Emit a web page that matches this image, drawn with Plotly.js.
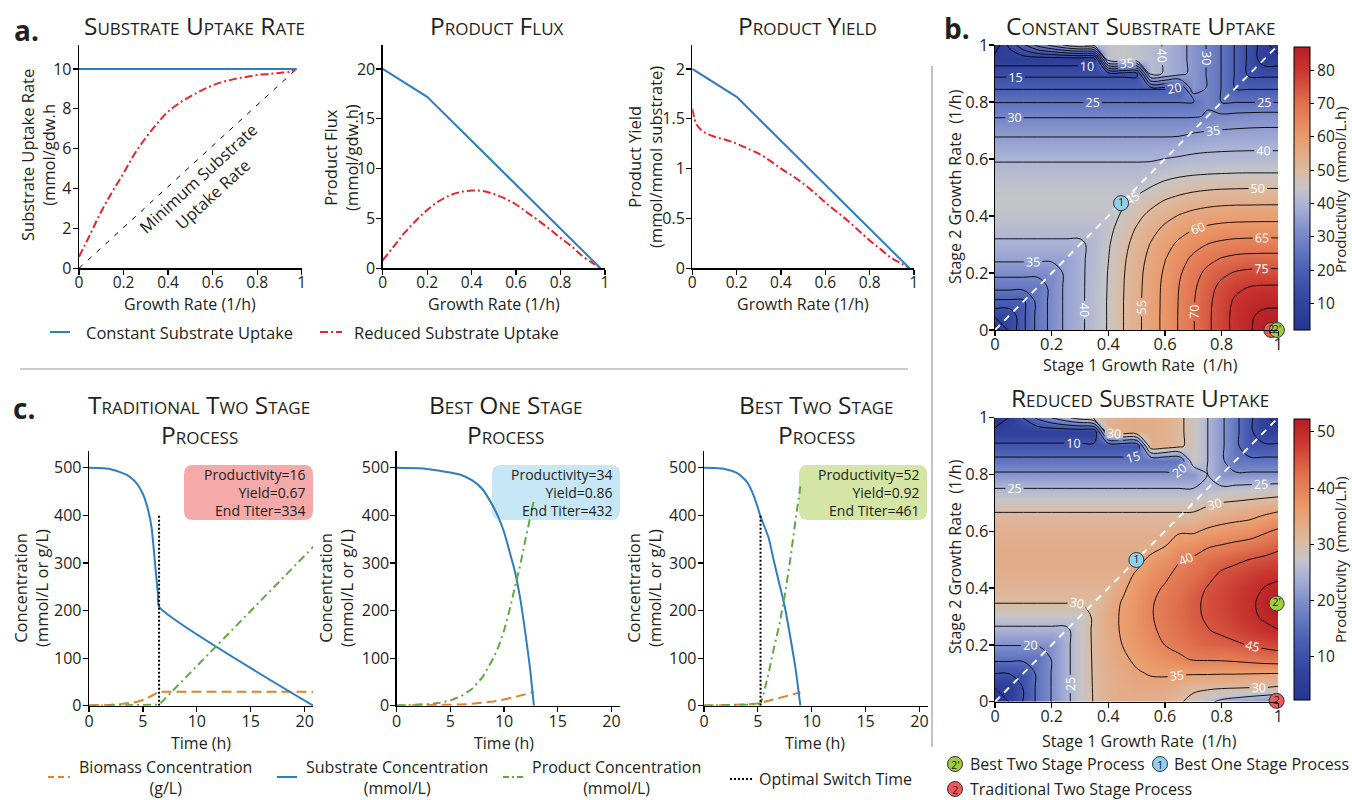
<!DOCTYPE html>
<html><head><meta charset="utf-8">
<script src="https://cdn.plot.ly/plotly-3.0.1.min.js"></script>
<style>html,body{margin:0;padding:0;background:#fff}#chart{width:1352px;height:800px}</style>
</head><body><div id="chart"></div>
<script>
// ---------- panel a data ----------
const muConst = [0, 0.977];
const uptakeConst = [10, 10];
const muMinUptake = [0, 0.977];
const uptakeMin = [0, 10];
const muReduced = [0,0.05,0.1,0.15,0.2,0.25,0.3,0.35,0.4,0.45,0.5,0.55,0.6,0.65,0.7,0.75,0.8,0.85,0.9,0.95,0.977];
const uptakeReduced = [0.58,1.7,2.85,3.85,4.77,5.75,6.55,7.25,7.86,8.28,8.62,8.92,9.18,9.36,9.5,9.6,9.7,9.75,9.8,9.87,10];
const muFluxConst = [0, 0.2, 0.98];
const fluxConst = [20, 17.2, 0];
const muFluxRed = [0,0.05,0.1,0.15,0.2,0.25,0.3,0.35,0.4,0.45,0.5,0.55,0.6,0.65,0.7,0.75,0.8,0.85,0.9,0.95,0.98];
const fluxRed = [0.8,2.2,3.6,4.8,5.85,6.7,7.3,7.65,7.8,7.75,7.45,7.0,6.4,5.6,4.8,3.95,3.05,2.2,1.2,0.45,0];
const muYieldConst = [0, 0.2, 0.98];
const yieldConst = [2, 1.72, 0];
const muYieldRed = [0,0.01,0.02,0.05,0.1,0.15,0.2,0.25,0.3,0.35,0.4,0.45,0.5,0.55,0.6,0.65,0.7,0.75,0.8,0.85,0.9,0.95,0.98];
const yieldRed = [1.6,1.5,1.44,1.37,1.32,1.29,1.25,1.2,1.15,1.08,1.0,0.93,0.85,0.76,0.66,0.57,0.48,0.38,0.28,0.19,0.1,0.04,0];

// ---------- panel b data ----------
const stageRate = [0,0.05,0.1,0.15,0.2,0.25,0.3,0.35,0.4,0.45,0.5,0.55,0.6,0.65,0.7,0.75,0.8,0.85,0.9,0.95,1];
const prodConstant = [
[2,11,19,26.5,31.5,36,39,42.1,45.4,49.7,53.7,57.5,61.4,65.4,69.7,73.9,78,81.5,84.8,86.1,87],
[11,11,19,26.5,31.5,36,39,42.1,45.4,49.7,53.7,57.5,61.4,65.4,69.7,73.9,78,81.5,84.6,85.8,86],
[19,19,19,26.5,31.5,36,39,42.1,45.4,49.7,53.7,57.5,61.3,65.3,69.6,73.7,77.6,80.9,83.2,84.1,84.1],
[26.5,26.5,26.5,26.5,31.5,36,39,42,45.3,49.6,53.5,57.4,61.2,65.1,69.1,73,76.4,78.9,80.2,80.6,80.6],
[31.5,31.5,31.5,31.5,31.5,36,39,41.9,45.2,49.4,53.3,57.1,60.7,64.3,68,71.3,73.9,75.5,76.2,76.4,76.4],
[36,36,36,36,36,36,39,41.7,44.9,49,52.8,56.4,59.8,63,66,68.5,70.3,71.3,71.7,71.8,71.8],
[39,39,39,39,39,39,39,41.5,44.5,48.3,51.9,55.3,58.3,61,63.3,65.1,66.2,66.8,67,67.1,67.1],
[41.5,41.5,41.5,41.5,41.5,41.5,41.5,41.5,43.8,47.1,50.6,53.6,56.2,58.4,60.1,61.3,62,62.4,62.5,62.6,62.6],
[43.5,43.5,43.5,43.5,43.5,43.5,43.5,43.5,43.5,45.5,48.7,51.4,53.6,55.3,56.6,57.5,58,58.2,58.3,58.3,58.3],
[44.5,44.5,44.5,44.5,44.5,44.5,44.5,44.5,44.5,44.5,46.1,48.5,50.5,51.8,52.8,53.4,53.8,54,54,54.1,54.1],
[43.5,43.5,43.5,43.5,43.5,43.5,43.5,43.5,43.5,43.5,43.6,45.1,46.7,47.9,48.7,49.2,49.5,49.6,49.7,49.7,49.7],
[41.8,41.8,41.8,41.8,41.8,41.8,41.8,41.8,41.8,41.8,41.8,42.3,43.2,43.9,44.4,44.7,44.9,45.05,45.1,45.1,45.1],
[39.5,39.5,39.5,39.5,39.5,39.5,39.5,39.5,39.5,39.5,39.5,39.5,40.1,40.6,41,41.2,41.3,41.4,41.4,41.4,41.4],
[36.8,36.8,36.8,36.8,36.8,36.8,36.8,36.8,36.8,36.8,36.8,36.8,36.8,37.2,38.2,38.6,38.8,38.9,39,39,39],
[33.5,33.5,33.5,33.5,33.5,33.5,33.5,33.5,33.5,33.5,33.5,33.5,33.5,33.5,34.3,34.8,35.2,35.5,35.7,35.8,35.8],
[29.6,29.6,29.6,29.6,29.6,29.6,29.6,29.6,29.6,29.6,29.6,29.6,29.6,29.6,29.6,30.3,31,31.5,31.8,32,32],
[24.8,24.8,24.8,24.8,24.8,24.8,24.8,24.8,24.8,24.8,24.8,24.8,24.8,24.8,24.8,29.6,24.8,24.8,24.8,24.8,24.8],
[19.4,19.4,19.4,19.4,19.4,19.4,19.4,19.4,19.4,19.4,19.4,19.4,19.4,19.4,33.5,29.6,24.8,19.4,19.4,19.4,19.4],
[13.5,13.5,13.5,13.5,13.5,13.5,13.5,13.5,13.5,13.5,13.5,41.8,39.5,36.8,33.5,29.6,24.8,19.4,13.5,13.5,13.5],
[7,7,7,7,7,7,7,7,43.5,44.5,43.5,41.8,39.5,36.8,33.5,29.6,24.8,19.4,13.5,7,7],
[2,11,19,26.5,31.5,36,39,41.5,43.5,44.5,43.5,41.8,39.5,36.8,33.5,29.6,24.8,19.4,13.5,7,1]
];
const prodReduced = [
[2.3,5.1,10.2,16,20.2,24,27.2,30.3,32,33,33.3,33,32.2,30.6,28.5,26,24,23,22,21,20.1],
[5.1,5.1,10.2,16,20.2,24,27.2,30.4,32.3,33.3,33.8,33.8,33.5,32.5,31,30.8,30.5,30.3,30.1,30.05,29.5],
[10.2,10.2,10.2,16,20.2,24,27.2,30.5,32.6,33.7,34.6,35.3,35.5,35.4,35.4,35.4,35.3,35.3,35.2,35.1,35.05],
[16,16,16,16,20.2,24,27.2,30.6,32.9,34.3,35.7,37,38,39.2,40.4,40.5,40.6,41,41.6,42.2,42.5],
[20.2,20.2,20.2,20.2,20.2,24,27.2,30.7,33.1,35.05,36.6,38.4,40.05,41.2,42.6,43.5,43.8,44.4,45.2,46,46.7],
[24,24,24,24,24,24,27.2,30.8,33.3,35.5,37.3,39.3,40.9,42.3,43.7,44.8,45.6,46.6,47.7,48.9,49.8],
[27.2,27.2,27.2,27.2,27.2,27.2,27.2,30.8,33.3,35.6,37.6,39.7,41.3,42.8,44.2,45.5,46.5,47.8,49.1,50.6,51.8],
[30.2,30.2,30.2,30.2,30.2,30.2,30.2,30.2,33,35.3,37.5,39.6,41.2,42.8,44.3,45.6,46.8,48,49.3,51,52.3],
[31.8,31.8,31.8,31.8,31.8,31.8,31.8,31.8,31.8,34.2,36.8,39,40.4,42.1,43.6,45.2,46.4,47.6,48.8,50.1,51],
[32.8,32.8,32.8,32.8,32.8,32.8,32.8,32.8,32.8,32.8,35.6,37.8,39.2,41,42.3,43.8,45.5,46.3,47.3,48.2,49],
[33.2,33.2,33.2,33.2,33.2,33.2,33.2,33.2,33.2,33.2,33.2,36.2,37.6,39.7,40.6,42.1,43.5,44.3,45.1,45.8,46.5],
[33,33,33,33,33,33,33,33,33,33,33,33,34.8,37.2,38,39.5,40.2,41,41.6,42.7,44],
[32.3,32.3,32.3,32.3,32.3,32.3,32.3,32.3,32.3,32.3,32.3,32.3,32.3,34.5,34.4,35.8,36.6,37.3,38,39.4,40.7],
[30.9,30.9,30.9,30.9,30.9,30.9,30.9,30.9,30.9,30.9,30.9,30.9,30.9,30.9,31,32.3,33.3,33.8,34.3,35.6,36.8],
[28.2,28.2,28.2,28.2,28.2,28.2,28.2,28.2,28.2,28.2,28.2,28.2,28.2,28.2,28.2,29.3,30.1,30.5,31,31.5,32],
[25.1,25.1,25.1,25.1,25.1,25.1,25.1,25.1,25.1,25.1,25.1,25.1,25.1,25.1,25.1,25.1,26,26.4,26.7,27,27.3],
[20.8,20.8,20.8,20.8,20.8,20.8,20.8,20.8,20.8,20.8,20.8,20.8,20.8,20.8,20.8,25.1,20.8,20.8,20.8,20.8,20.8],
[16.2,16.2,16.2,16.2,16.2,16.2,16.2,16.2,16.2,16.2,16.2,16.2,16.2,16.2,28.2,25.1,20.8,16.2,16.2,16.2,16.2],
[11,11,11,11,11,11,11,11,11,11,11,33,32.3,30.9,28.2,25.1,20.8,16.2,11,11,11],
[6.2,6.2,6.2,6.2,6.2,6.2,6.2,6.2,31.8,32.8,33.2,33,32.3,30.9,28.2,25.1,20.8,16.2,11,6.2,6.2],
[2.3,5.1,10.2,16,20.2,24,27.2,30.2,31.8,32.8,33.2,33,32.3,30.9,28.2,25.1,20.8,16.2,11,6.2,2.5]
];
const diagonalRate = [0, 1];
const markConstMu1 = [0.975, 0.995, 0.445];
const markConstMu2 = [0, 0, 0.445];
const markRedMu1 = [0.994, 0.994, 0.499];
const markRedMu2 = [0.003, 0.346, 0.499];
const markLabels = ['2', "2'", '1'];
const markColors = ['#f0595b', '#a3cc3d', '#8dd1f0'];

// ---------- panel c data ----------
const tradSubT = [0,1,2,3,3.5,4,4.5,5,5.5,5.8,6,6.2,6.4,6.5,20.8];
const tradSub = [500,499.5,497,490,485,477,465,445,410,375,330,280,232,208,0];
const tradBioT = [0,1,2,3,4,4.5,5,5.5,6,6.5,20.8];
const tradBio = [1,1.3,2,3.5,6,8.5,12,17,23,29.5,29.5];
const tradProdT = [0,3,5,6.5,20.8];
const tradProd = [0,0.5,1.5,2,334];
const oneSubT = [0,2,3,4,5,6,7,8,9,9.5,10,10.5,11,11.5,12,12.4,12.78];
const oneSub = [500,499,497,494,490,485,474,455,418,395,365,325,283,226,150,82,0];
const oneProdT = [0,2,3,4,5,6,7,8,9,9.5,10,10.5,11,11.5,12,12.4,12.78];
const oneProd = [0.5,2,3.5,6,11,20,35,60,100,125,158,200,245,295,350,395,432];
const oneBioT = [0,3,5,6,7,8,9,10,11,12,12.78];
const oneBio = [0.2,0.6,1.5,2.5,4,6,9,13,18,24,29];
const twoSubT = [0,1,2,3,3.5,4,4.5,5,5.25,5.5,6,6.5,7,7.5,8,8.5,8.95];
const twoSub = [500,499.5,497,490,482,470,448,416,397,383,353,303,256,208,146,78,0];
const twoProdT = [0,2,3,4,5,5.25,5.5,6,6.5,7,7.5,8,8.5,8.95];
const twoProd = [0.3,0.8,1.3,2.2,4,5,22,68,122,170,232,305,390,461];
const twoBioT = [0,2,3,4,5,5.25,8.95];
const twoBio = [0.2,0.8,1.5,2.8,4.8,6,28];
const switchTrad = [6.5, 6.5];
const switchTwo = [5.25, 5.25];
const switchLevel = [0, 400];
const sumProductivity = [16, 34, 52];
const sumYield = ['0.67', '0.86', '0.92'];
const sumTiter = [334, 432, 461];

// ---------- helpers ----------
const W = 1352, H = 800;
const PX = v => v / W, PY = v => 1 - v / H;
const FONT = 'Open Sans, sans-serif';
const TXT = '#231f20';
const BLUE = '#2f7dc2', RED = '#e8242c', GREEN = '#62a83f', ORANGE = '#e0832b';

function xax(p0, p1, range, tickvals, anchor, fs, so) {
  return {domain:[PX(p0), PX(p1)], range, tickvals, anchor, showline:true, linecolor:'#000', linewidth:1.3,
    ticks:'outside', ticklen:5, tickwidth:1.2, tickcolor:'#000', showgrid:false, zeroline:false,
    ticklabelstandoff: so||0,
    tickfont:{family:FONT, size:fs||16, color:TXT}, fixedrange:true};
}
function yax(top, bottom, range, tickvals, anchor, fs, so) {
  return {domain:[PY(bottom), PY(top)], range, tickvals, anchor, showline:true, linecolor:'#000', linewidth:1.3,
    ticks:'outside', ticklen:5, tickwidth:1.2, tickcolor:'#000', showgrid:false, zeroline:false,
    ticklabelstandoff: so||0,
    tickfont:{family:FONT, size:fs||16, color:TXT}, fixedrange:true};
}
const colorscale = [[0,'#263591'],[0.1,'#33449f'],[0.21,'#4a5fb4'],[0.33,'#7586c8'],[0.44,'#aab2d6'],
  [0.5,'#c5c5c8'],[0.56,'#dcbba2'],[0.68,'#eb9b6b'],[0.8,'#e0714f'],[0.92,'#c9352f'],[1,'#b51d23']];

const traces = [];
// panel a
traces.push({x:muMinUptake, y:uptakeMin, xaxis:'x', yaxis:'y', mode:'lines', line:{color:'#000', width:1, dash:'5px,7px'}});
traces.push({x:muReduced, y:uptakeReduced, xaxis:'x', yaxis:'y', mode:'lines', line:{color:RED, width:2, dash:'8px,3px,2px,3px', shape:'spline'}});
traces.push({x:muConst, y:uptakeConst, xaxis:'x', yaxis:'y', mode:'lines', line:{color:BLUE, width:2}});
traces.push({x:muFluxRed, y:fluxRed, xaxis:'x2', yaxis:'y2', mode:'lines', line:{color:RED, width:2, dash:'8px,3px,2px,3px', shape:'spline'}});
traces.push({x:muFluxConst, y:fluxConst, xaxis:'x2', yaxis:'y2', mode:'lines', line:{color:BLUE, width:2}});
traces.push({x:muYieldRed, y:yieldRed, xaxis:'x3', yaxis:'y3', mode:'lines', line:{color:RED, width:2, dash:'8px,3px,2px,3px', shape:'spline'}});
traces.push({x:muYieldConst, y:yieldConst, xaxis:'x3', yaxis:'y3', mode:'lines', line:{color:BLUE, width:2}});

// panel b
function heat(z, xa, ya, zmin, zmax, cbTop, cbBot, ticks, cend) {
  traces.push({type:'heatmap', x:stageRate, y:stageRate, z, xaxis:xa, yaxis:ya, zsmooth:'best', zmin, zmax,
    colorscale, hoverinfo:'skip',
    colorbar:{x:PX(1294), xanchor:'left', xref:'paper', y:PY((cbTop+cbBot)/2), yanchor:'middle', yref:'paper',
      len:(cbBot-cbTop)/H, lenmode:'fraction', thickness:16, thicknessmode:'pixels', outlinewidth:1,
      outlinecolor:'#000', xpad:0, ypad:0, ticks:'outside', ticklen:4, tickcolor:'#000', tickvals:ticks,
      tickfont:{family:FONT, size:15.5, color:TXT}}});
  traces.push({type:'contour', x:stageRate, y:stageRate, z, xaxis:xa, yaxis:ya, showscale:false, hoverinfo:'skip',
    contours:{start:5, end:cend, size:5, coloring:'none', showlabels:true,
      labelfont:{family:FONT, size:12.5, color:'#ffffff'}},
    line:{color:'#000', width:0.9, smoothing:1}});
  traces.push({x:diagonalRate, y:diagonalRate, xaxis:xa, yaxis:ya, mode:'lines',
    line:{color:'rgba(255,255,255,0.92)', width:2, dash:'7px,6px'}, hoverinfo:'skip'});
}
heat(prodConstant, 'x4', 'y4', 2, 87, 47, 330, [10,20,30,40,50,60,70,80], 85);
heat(prodReduced, 'x5', 'y5', 2.3, 52.3, 419, 700, [10,20,30,40,50], 50);
traces.push({x:markConstMu1, y:markConstMu2, xaxis:'x4', yaxis:'y4', mode:'markers+text', text:markLabels,
  textposition:'middle center', textfont:{family:FONT, size:11, color:'#222'}, cliponaxis:false,
  marker:{size:15, color:markColors, line:{color:'#333', width:1}}});
traces.push({x:markRedMu1, y:markRedMu2, xaxis:'x5', yaxis:'y5', mode:'markers+text', text:markLabels,
  textposition:'middle center', textfont:{family:FONT, size:11, color:'#222'}, cliponaxis:false,
  marker:{size:15, color:markColors, line:{color:'#333', width:1}}});

// panel c
function course(xa, ya, bioT, bio, subT, sub, prodT, prod, sw) {
  traces.push({x:bioT, y:bio, xaxis:xa, yaxis:ya, mode:'lines', line:{color:ORANGE, width:2, dash:'10px,5px'}});
  traces.push({x:subT, y:sub, xaxis:xa, yaxis:ya, mode:'lines', line:{color:BLUE, width:2, shape:'spline', smoothing:0.6}});
  traces.push({x:prodT, y:prod, xaxis:xa, yaxis:ya, mode:'lines', line:{color:GREEN, width:2, dash:'8px,4px,2px,4px'}});
  if (sw) traces.push({x:sw, y:switchLevel, xaxis:xa, yaxis:ya, mode:'lines', line:{color:'#000', width:2, dash:'2px,2px'}});
}
course('x6','y6', tradBioT, tradBio, tradSubT, tradSub, tradProdT, tradProd, switchTrad);
course('x7','y7', oneBioT, oneBio, oneSubT, oneSub, oneProdT, oneProd, null);
course('x8','y8', twoBioT, twoBio, twoSubT, twoSub, twoProdT, twoProd, switchTwo);

const rate = [0,0.2,0.4,0.6,0.8,1];
const layout = {
  width:W, height:H, margin:{l:0,r:0,t:0,b:0}, autosize:false, showlegend:false,
  paper_bgcolor:'#fff', plot_bgcolor:'rgba(0,0,0,0)', font:{family:FONT, color:TXT}, hovermode:false,
  xaxis: xax(79, 301.7, [0,1], rate, 'y', 15.5, -5),
  yaxis: yax(45, 268.3, [0,11.2], [0,2,4,6,8,10], 'x', 16, -2),
  xaxis2: xax(382.7, 605, [0,1], rate, 'y2', 15.5, -5),
  yaxis2: yax(45, 268.3, [0,22.4], [0,5,10,15,20], 'x2', 16, -2),
  xaxis3: xax(692.3, 914, [0,1], rate, 'y3', 15.5, -5),
  yaxis3: yax(45, 268.3, [0,2.24], [0,0.5,1,1.5,2], 'x3', 16, -2),
  xaxis4: xax(995, 1278.3, [0,1], rate, 'y4', 16.5, -6),
  yaxis4: yax(45, 330, [0,1], rate, 'x4', 16.5, -3),
  xaxis5: xax(995, 1278.3, [0,1], rate, 'y5', 16, -5),
  yaxis5: yax(417.7, 701.7, [0,1], rate, 'x5', 16.5, -3),
  xaxis6: xax(89, 313.3, [0,20.8], [0,5,10,15,20], 'y6', 16, -4),
  yaxis6: yax(450.7, 705.7, [0,536], [0,100,200,300,400,500], 'x6', 16, -2),
  xaxis7: xax(396.7, 620, [0,20.8], [0,5,10,15,20], 'y7', 16, -4),
  yaxis7: yax(450.7, 705.7, [0,536], [0,100,200,300,400,500], 'x7', 16, -2),
  xaxis8: xax(704, 928, [0,20.8], [0,5,10,15,20], 'y8', 16, -4),
  yaxis8: yax(450.7, 705.7, [0,536], [0,100,200,300,400,500], 'x8', 16, -2),
};

const ann = [];
const AF = {family:FONT, size:16.5, color:TXT};
function A(text, x, y, o) {
  ann.push(Object.assign({text, x:PX(x), y:PY(y), xref:'paper', yref:'paper', showarrow:false,
    xanchor:'center', yanchor:'middle', font:AF}, o||{}));
}
const TF = {family:FONT, size:24.5, color:TXT, variant:'small-caps'};
A('Substrate Uptake Rate', 195, 26, {font:TF});
A('Product Flux', 497, 26, {font:TF});
A('Product Yield', 807, 26, {font:TF});
A('Constant Substrate Uptake', 1140, 26, {font:TF});
A('Reduced Substrate Uptake', 1140, 397, {font:TF});
A('Traditional Two Stage', 199, 404, {font:TF});
A('Process', 199, 434, {font:TF});
A('Best One Stage', 505, 404, {font:TF});
A('Process', 505, 434, {font:TF});
A('Best Two Stage', 816, 404, {font:TF});
A('Process', 816, 434, {font:TF});
const LF = {family:FONT, size:28, color:'#231f20', weight:700};
A('a.', 26, 30, {font:LF});
A('b.', 957, 28, {font:LF});
A('c.', 24, 408, {font:LF});
// axis titles
const GRF = {family:FONT, size:16, color:TXT};
A('Substrate Uptake Rate<br>(mmol/gdw.h', 38, 155, {textangle:-90});
A('Growth Rate (1/h)', 190, 304, {font:GRF});
A('Product Flux<br>(mmol/gdw.h)', 341, 158, {textangle:-90});
A('Growth Rate (1/h)', 494, 304, {font:GRF});
A('Product Yield<br>(mmol/mmol substrate)', 645, 157, {textangle:-90});
A('Growth Rate (1/h)', 803, 304, {font:GRF});
const HF = {family:FONT, size:16, color:TXT};
A('Stage 2 Growth Rate\u00a0 (1/h)', 955, 187, {textangle:-90, font:HF});
A('Stage 1 Growth Rate\u00a0 (1/h)', 1140, 365, {font:HF});
A('Stage 2 Growth Rate\u00a0 (1/h)', 955, 557, {textangle:-90, font:HF});
A('Stage 1 Growth Rate\u00a0 (1/h)', 1139, 741, {font:HF});
const CBF = {family:FONT, size:15, color:TXT};
A('Productivity\u00a0 (mmol/L.h)', 1340, 190, {textangle:-90, font:CBF});
A('Productivity\u00a0 (mmol/L.h)', 1340, 560, {textangle:-90, font:CBF});
A('Concentration<br>(mmol/L or g/L)', 31, 588, {textangle:-90});
A('Concentration<br>(mmol/L or g/L)', 336, 588, {textangle:-90});
A('Concentration<br>(mmol/L or g/L)', 644, 588, {textangle:-90});
const TMF = {family:FONT, size:16, color:TXT};
A('Time (h)', 201, 743, {font:TMF});
A('Time (h)', 504, 743, {font:TMF});
A('Time (h)', 815, 743, {font:TMF});
A('Minimum Substrate<br>Uptake Rate', 205, 186, {textangle:-42.5});
// legends
A('Constant Substrate Uptake', 84, 332, {xanchor:'left'});
A('Reduced Substrate Uptake', 352, 332, {xanchor:'left'});
const LGF = {family:FONT, size:16, color:TXT};
A('Biomass Concentration<br>(g/L)', 165, 777, {font:LGF});
A('Substrate Concentration<br>(mmol/L)', 397, 777, {font:LGF});
A('Product Concentration<br>(mmol/L)', 616, 777, {font:LGF});
A('Optimal Switch Time', 757, 779, {xanchor:'left', font:LGF});
const GF = {family:FONT, size:16, color:TXT};
A('Best Two Stage Process', 968, 764, {xanchor:'left', font:GF});
A('Best One Stage Process', 1172, 764, {xanchor:'left', font:GF});
A('Traditional Two Stage Process', 968, 789, {xanchor:'left', font:GF});
const CF = {family:FONT, size:11, color:'#222'};
A("2'", 955, 764, {font:CF});
A('1', 1160, 764, {font:CF});
A('2', 955, 789, {font:CF});
// summary boxes
const boxX = [[184,313],[492,620],[799,927]];
const BF = {family:FONT, size:14, color:TXT};
for (let k = 0; k < 3; k++) {
  A('Productivity=' + sumProductivity[k] + '<br>Yield=' + sumYield[k] + '<br>End Titer=' + sumTiter[k],
    boxX[k][1] - 5, 492.5, {xanchor:'right', align:'right', font:BF});
}

function rrect(x0, y0, x1, y1, r) {
  const X = v => PX(v).toFixed(5), Y = v => PY(v).toFixed(5);
  return `M${X(x0+r)},${Y(y0)} L${X(x1-r)},${Y(y0)} Q${X(x1)},${Y(y0)} ${X(x1)},${Y(y0+r)} L${X(x1)},${Y(y1-r)} Q${X(x1)},${Y(y1)} ${X(x1-r)},${Y(y1)} L${X(x0+r)},${Y(y1)} Q${X(x0)},${Y(y1)} ${X(x0)},${Y(y1-r)} L${X(x0)},${Y(y0+r)} Q${X(x0)},${Y(y0)} ${X(x0+r)},${Y(y0)} Z`;
}
const boxFill = ['#f5a9a9', '#c7e6f6', '#d4e5a5'];
const shapes = [];
for (let k = 0; k < 3; k++) {
  shapes.push({type:'path', xref:'paper', yref:'paper', path:rrect(boxX[k][0], 465, boxX[k][1], 520, 9),
    fillcolor:boxFill[k], line:{width:0}, layer:'below'});
}
function L(x0, y0, x1, y1, color, width, dash) {
  shapes.push({type:'line', xref:'paper', yref:'paper', x0:PX(x0), y0:PY(y0), x1:PX(x1), y1:PY(y1),
    line:{color, width, dash:dash||'solid'}});
}
L(932, 66, 932, 747, '#9a9a9a', 1.2);
L(20, 369, 908, 369, '#9a9a9a', 1.2);
L(50, 332, 70, 332, BLUE, 2);
L(320, 332, 342, 332, RED, 2, '8px,3px,2px,3px');
L(48, 777, 70, 777, ORANGE, 2, '6px,4px');
L(277, 777, 297, 777, BLUE, 2);
L(503, 777, 524, 777, GREEN, 2, '6px,3px,2px,3px');
L(730, 779, 753, 779, '#000', 2, '2px,2px');
function C(x, y, color) {
  shapes.push({type:'circle', xref:'paper', yref:'paper', xsizemode:'pixel', ysizemode:'pixel',
    xanchor:PX(x), yanchor:PY(y), x0:-7.5, x1:7.5, y0:-7.5, y1:7.5, fillcolor:color, line:{color:'#333', width:1}});
}
C(955, 764, markColors[1]);
C(1160, 764, markColors[2]);
C(955, 789, markColors[0]);

layout.annotations = ann;
layout.shapes = shapes;
Plotly.newPlot('chart', traces, layout, {staticPlot:true, displayModeBar:false});
</script>
</body></html>
